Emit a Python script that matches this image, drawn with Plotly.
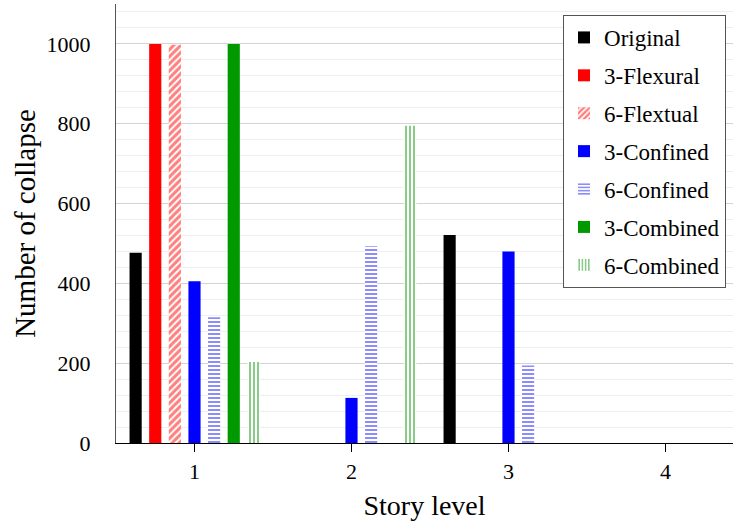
import plotly.graph_objects as go

stories = [1, 2, 3, 4]
series_names = ["Original", "3-Flexural", "6-Flextual", "3-Confined", "6-Confined", "3-Combined", "6-Combined"]
original = [477, 0, 521, 0]
flex3 = [1000, 0, 0, 0]
flex6 = [998, 0, 0, 0]
conf3 = [405, 113, 480, 0]
conf6 = [315, 493, 194, 0]
comb3 = [1000, 0, 0, 0]
comb6 = [203, 795, 0, 0]

values = [original, flex3, flex6, conf3, conf6, comb3, comb6]
colors = ["#000000", "#ff0000", "#ff0000", "#0000ff", "#1a1aff", "#009900", "#119911"]
patterns = ["", "", "/", "", "-", "", "|"]
pat_sizes = [0, 0, 5, 0, 4, 0, 4]
pat_solid = [0, 0, 0.6, 0, 0.5, 0, 0.5]

fig = go.Figure()
for i, (name, vals, col, pat, ps, sol) in enumerate(zip(series_names, values, colors, patterns, pat_sizes, pat_solid)):
    if pat:
        marker = dict(color="white", line=dict(width=0),
                      pattern=dict(shape=pat, fgcolor=col, bgcolor="white", size=ps, solidity=sol, fillmode="overlay"))
    else:
        marker = dict(color=col, line=dict(width=0))
    fig.add_trace(go.Bar(x=stories, y=vals, name=name, marker=marker, legendgroup=f"g{i}"))

font_family = "Liberation Serif, Times New Roman, serif"
fig.update_layout(
    width=733, height=527,
    margin=dict(l=116, r=0, t=4, b=84),
    plot_bgcolor="white", paper_bgcolor="white",
    barmode="group", bargap=0.125, bargroupgap=0.38,
    font=dict(family=font_family, size=22, color="black"),
    legend=dict(x=0.7245, y=0.975, xanchor="left", yanchor="top",
                bordercolor="#555555", borderwidth=1, bgcolor="white",
                font=dict(size=23), traceorder="grouped", tracegroupgap=5,
                itemwidth=30),
    xaxis=dict(range=[0.5, 4.43], tickmode="array", tickvals=stories, ticktext=[str(s) for s in stories],
               showline=True, linecolor="black", linewidth=1.3, ticks="outside", ticklen=8,
               tickson="boundaries", tickcolor="black", showgrid=False,
               ticklabelstandoff=0,
               title=dict(text="Story level", font=dict(size=28), standoff=12),
               tickfont=dict(size=22)),
    yaxis=dict(range=[0, 1100], dtick=200, showline=True, linecolor="#555555", linewidth=1.3,
               showgrid=True, gridcolor="#d4d4d4", gridwidth=1, zeroline=False,
               minor=dict(dtick=40, showgrid=True, gridcolor="#eeeeee", gridwidth=1),
               ticks="", tickfont=dict(size=22), ticklabelstandoff=20,
               title=dict(text="Number of collapse", font=dict(size=29), standoff=2)),
)

fig.write_html("out.html", config={"displayModeBar": False},
               post_script="document.body.style.margin='0';document.body.style.overflow='hidden';")
